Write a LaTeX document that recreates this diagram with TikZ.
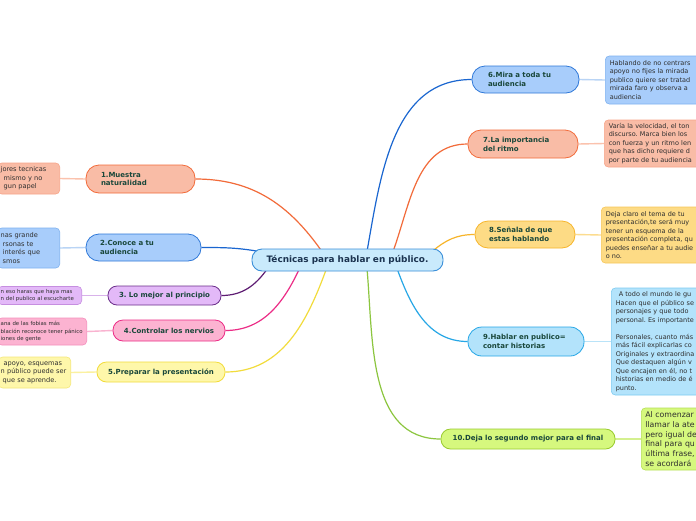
\documentclass[tikz,border=0pt]{standalone}
\usepackage{fontspec}
\setmainfont{DejaVu Sans}
\usetikzlibrary{backgrounds}
\frenchspacing
\definecolor{cFill}{HTML}{C9EAFC}
\definecolor{cBorder}{HTML}{3A8FD9}
\definecolor{cText}{HTML}{1B3350}
\definecolor{bText}{HTML}{19473A}
\definecolor{nText}{HTML}{2E2E2E}
\definecolor{orF}{HTML}{F9BCA6}
\definecolor{orB}{HTML}{F26B3A}
\definecolor{orL}{HTML}{F7A58A}
\definecolor{orLink}{HTML}{FBC2AD}
\definecolor{blF}{HTML}{A8CDFB}
\definecolor{blB}{HTML}{2F78D8}
\definecolor{blL}{HTML}{7FB2F0}
\definecolor{blLink}{HTML}{B9D4F5}
\definecolor{blLine}{HTML}{1A66D0}
\definecolor{puF}{HTML}{E3B9F8}
\definecolor{puB}{HTML}{6B2E8A}
\definecolor{puL}{HTML}{C68EE0}
\definecolor{puLink}{HTML}{D8B2EA}
\definecolor{puLine}{HTML}{5E1D73}
\definecolor{piF}{HTML}{FCB3D1}
\definecolor{piB}{HTML}{EC2C86}
\definecolor{piL}{HTML}{F58FBD}
\definecolor{piLink}{HTML}{F9B3D0}
\definecolor{yeF}{HTML}{FEF7AA}
\definecolor{yeB}{HTML}{F2DC3C}
\definecolor{yeL}{HTML}{F5E87A}
\definecolor{yeLink}{HTML}{FBF1A0}
\definecolor{goF}{HTML}{FDDB85}
\definecolor{goB}{HTML}{F7B52B}
\definecolor{goL}{HTML}{F7C75A}
\definecolor{goLink}{HTML}{FCDC8F}
\definecolor{cyF}{HTML}{B3E3FB}
\definecolor{cyB}{HTML}{27A7E6}
\definecolor{cyL}{HTML}{7DCBF2}
\definecolor{cyLink}{HTML}{B9E3F8}
\definecolor{grF}{HTML}{D6F87E}
\definecolor{grB}{HTML}{9ACB2F}
\definecolor{grL}{HTML}{B5DF55}
\definecolor{grLink}{HTML}{D4F08F}
\definecolor{grLine}{HTML}{8CC63F}
\begin{document}
\begin{tikzpicture}[x=1pt,y=-1pt,
  cnode/.style={draw=cBorder, fill=cFill, line width=0.9pt, rounded corners=10pt,
    minimum width=191pt, minimum height=22pt, inner sep=0pt,
    font=\fontsize{8.9}{10}\selectfont\bfseries, text=cText},
  br/.style={line width=0.8pt, inner ysep=0pt, align=left, text=bText,
    font=\fontsize{7}{8.8}\selectfont\bfseries},
  brone/.style={line width=0.8pt, inner sep=0pt, align=center, text=bText,
    font=\fontsize{7}{8.8}\selectfont\bfseries},
  note/.style={line width=0.6pt, rounded corners=4pt, text=nText, inner xsep=5pt,
    inner ysep=0pt, align=left, font=\fontsize{6.5}{8.5}\selectfont},
  lnote/.style={note, anchor=east, inner xsep=3pt, font=\fontsize{6.6}{8.6}\selectfont},
  rnote/.style={note, anchor=west, text width=110pt, inner xsep=4.5pt},
  conn/.style={line width=1.2pt},
  link/.style={line width=1.4pt}
]
\useasboundingbox (0,0) rectangle (696,520);

% central node
\node[cnode] (c) at (347.5,260) {Técnicas para hablar en público.};

% branch nodes
\node[br, draw=orB, fill=orF, rounded corners=13pt, minimum height=28pt, text width=79pt, inner xsep=15pt] (b1) at (140.5,179) {1.Muestra\\naturalidad};
\node[br, draw=blB, fill=blF, rounded corners=13pt, minimum height=27pt, text width=87pt, inner xsep=14pt] (b2) at (143.5,247.5) {2.Conoce a tu\\audiencia};
\node[brone, draw=puB, fill=puF, rounded corners=9pt, minimum width=113pt, minimum height=19pt] (b3) at (164.5,295.5) {3. Lo mejor al principio};
\node[brone, draw=piB, fill=piF, rounded corners=10pt, minimum width=112pt, minimum height=21pt] (b4) at (169,330.5) {4.Controlar los nervios};
\node[brone, draw=yeB, fill=yeF, rounded corners=9.5pt, minimum width=128pt, minimum height=20pt] (b5) at (161,372) {5.Preparar la presentación};
\node[br, draw=blB, fill=blF, rounded corners=13pt, minimum height=27pt, text width=75pt, inner xsep=16pt] (b6) at (525.5,79.5) {6.Mira a toda tu\\audiencia};
\node[br, draw=orB, fill=orF, rounded corners=13pt, minimum height=28pt, text width=80pt, inner xsep=15pt] (b7) at (523,144) {7.La importancia\\del ritmo};
\node[br, draw=goB, fill=goF, rounded corners=13pt, minimum height=27pt, text width=72pt, inner xsep=14pt] (b8) at (525,234.5) {8.Señala de que\\estas hablando};
\node[br, draw=cyB, fill=cyF, rounded corners=14pt, minimum height=29pt, text width=86pt, inner xsep=15pt] (b9) at (526,341.5) {9.Hablar en publico=\\contar historias};
\node[brone, draw=grB, fill=grF, rounded corners=9.5pt, minimum width=174pt, minimum height=20pt] (b10) at (528,439) {10.Deja lo segundo mejor para el final};

% notes (left, clipped by the picture border)
\node[lnote, draw=orL, fill=orF, text width=56pt, minimum height=31pt] (n1) at (60,178.5) {jores tecnicas\\\hspace*{3pt}mismo y no\\\hspace*{3pt}gun papel};
\node[lnote, draw=blL, fill=blF, text width=56pt, minimum height=40pt] (n2) at (60,248) {nas grande\\\hspace*{2pt}rsonas te\\\hspace*{2pt}interés que\\\hspace*{2pt}smos};
\node[lnote, draw=puL, fill=puF, text width=78pt, minimum height=18pt, font=\fontsize{5.4}{7.3}\selectfont] (n3) at (82,295.5) {n eso haras que haya mas\\n del publico al escucharte};
\node[lnote, draw=piL, fill=piF, text width=83pt, minimum height=27pt, font=\fontsize{5.4}{7.5}\selectfont] (n4) at (87,331.5) {ana de las fobias más\\blación reconoce tener pánico\\iones de gente};
\node[lnote, draw=yeL, fill=yeF, text width=68pt, minimum height=31pt, inner xsep=2pt, font=\fontsize{6.6}{8.5}\selectfont] (n5) at (71,372.5) {\hspace*{3pt}apoyo, esquemas\\n público puede ser\\\hspace*{2pt}que se aprende.};

% notes (right, clipped by the picture border)
\node[rnote, draw=blL, fill=blF, minimum height=48pt] (n6) at (605,80) {Hablando de no centrars\\apoyo no fijes la mirada\\publico quiere ser tratad\\mirada faro y observa a\\audiencia};
\node[rnote, draw=orL, fill=orF, minimum height=47pt] (n7) at (604,143.5) {Varía la velocidad, el ton\\discurso. Marca bien los\\con fuerza y un ritmo len\\que has dicho requiere d\\por parte de tu audiencia};
\node[rnote, draw=goL, fill=goF, minimum height=56pt] (n8) at (601,235) {Deja claro el tema de tu\\presentación,te será muy\\tener un esquema de la\\presentación completa, qu\\puedes enseñar a tu audie\\o no.};
\node[rnote, draw=cyL, fill=cyF, minimum height=107pt] (n9) at (611,341.5) {\hspace*{3pt}A todo el mundo le gu\\Hacen que el público se\\personajes y que todo\\personal. Es importante\\[8.5pt]Personales, cuanto más\\más fácil explicarlas co\\Originales y extraordina\\Que destaquen algún v\\Que encajen en él, no t\\historias en medio de é\\punto.};
\node[rnote, draw=grL, fill=grF, minimum height=62pt, font=\fontsize{7.8}{9.8}\selectfont, inner xsep=4pt] (n10) at (641,439) {Al comenzar\\llamar la ate\\pero igual de\\final para qu\\última frase,\\se acordará};

\begin{pgfonlayer}{background}
\fill[white] (0,0) rectangle (696,520);
% connectors from the centre
\draw[conn, orB] (b1.east) to[out=0,in=125] ([xshift=-25.5pt,yshift=-3pt]c.north);
\draw[conn, blLine] (b2.east) to[out=0,in=170] ([xshift=8pt,yshift=-3pt]c.north west);
\draw[conn, puLine] (b3.east) to[out=0,in=-125] ([xshift=16pt,yshift=3pt]c.south west);
\draw[conn, piB] (b4.east) to[out=0,in=-115] ([xshift=48pt,yshift=3pt]c.south west);
\draw[conn, yeB] (b5.east) to[out=0,in=-110] ([xshift=75pt,yshift=3pt]c.south west);
\draw[conn, blLine] (b6.west) to[out=180,in=80] ([xshift=19.5pt,yshift=-3pt]c.north);
\draw[conn, orB] (b7.west) to[out=180,in=70] ([xshift=45.5pt,yshift=-3pt]c.north);
\draw[conn, goB] (b8.west) to[out=180,in=40] ([xshift=84.5pt,yshift=-3pt]c.north);
\draw[conn, cyB] (b9.west) to[out=180,in=-70] ([xshift=49.5pt,yshift=3pt]c.south);
\draw[conn, grLine] (b10.west) to[out=180,in=-85] ([xshift=19.5pt,yshift=3pt]c.south);
% links from branches to notes
\draw[link, orLink] (b1.west) -- (n1.east);
\draw[link, blLink] (b2.west) -- (n2.east);
\draw[link, puLink] (b3.west) -- (n3.east);
\draw[link, piLink] (b4.west) -- (n4.east);
\draw[link, yeLink] (b5.west) -- (n5.east);
\draw[link, blLink] (b6.east) -- (n6.west);
\draw[link, orLink] (b7.east) -- (n7.west);
\draw[link, goLink] (b8.east) -- (n8.west);
\draw[link, cyLink] (b9.east) -- (n9.west);
\draw[link, grLink] (b10.east) -- (n10.west);
\end{pgfonlayer}
\end{tikzpicture}
\end{document}
